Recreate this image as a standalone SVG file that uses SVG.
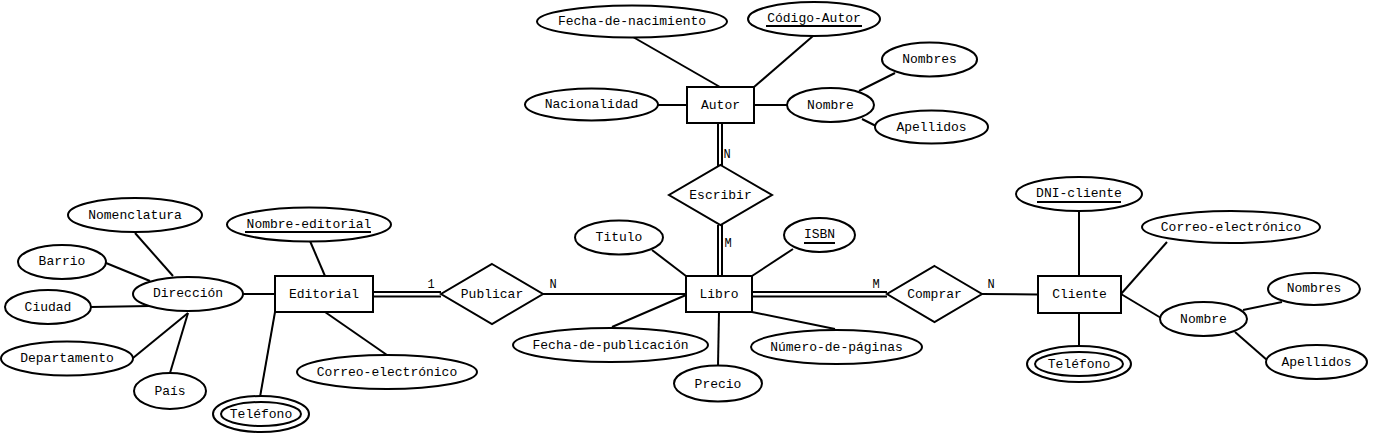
<svg xmlns="http://www.w3.org/2000/svg" width="1376" height="434" viewBox="0 0 1376 434">
<style>
.s{fill:#fff;stroke:#000;stroke-width:2}
.i{fill:none;stroke:#000;stroke-width:2}
.l{stroke:#000;stroke-width:2;fill:none}
.u{stroke:#000;stroke-width:2}
text{font-family:"Liberation Mono","Courier New",monospace;font-size:13px;fill:#000;text-anchor:middle;dominant-baseline:central}
.c{font-size:12px}
</style>
<rect width="1376" height="434" fill="#fff"/>
<g id="connectors">
<line class="l" x1="633" y1="37" x2="720" y2="87"/>
<line class="l" x1="813" y1="36" x2="754" y2="87"/>
<line class="l" x1="658" y1="105" x2="687" y2="105"/>
<line class="l" x1="754" y1="105" x2="787" y2="105"/>
<line class="l" x1="859" y1="91" x2="895" y2="73"/>
<line class="l" x1="862" y1="119" x2="878" y2="127"/>
<line class="l" x1="718" y1="123" x2="718" y2="166"/>
<line class="l" x1="722" y1="123" x2="722" y2="166"/>
<line class="l" x1="718" y1="225" x2="718" y2="276"/>
<line class="l" x1="722" y1="225" x2="722" y2="276"/>
<line class="l" x1="652" y1="250" x2="686" y2="276"/>
<line class="l" x1="793" y1="249" x2="752" y2="276"/>
<line class="l" x1="543" y1="294" x2="686" y2="294"/>
<line class="l" x1="612" y1="327" x2="686" y2="295"/>
<line class="l" x1="719" y1="312" x2="718" y2="366"/>
<line class="l" x1="752" y1="312" x2="835" y2="329"/>
<line class="l" x1="752" y1="292" x2="887" y2="292"/>
<line class="l" x1="752" y1="296.5" x2="887" y2="296.5"/>
<line class="l" x1="982" y1="294" x2="1038" y2="294.5"/>
<line class="l" x1="1079" y1="211" x2="1079" y2="276"/>
<line class="l" x1="1121" y1="294" x2="1167" y2="242"/>
<line class="l" x1="1121" y1="294" x2="1161" y2="318"/>
<line class="l" x1="1243" y1="310" x2="1282" y2="302"/>
<line class="l" x1="1235" y1="332" x2="1267" y2="360"/>
<line class="l" x1="1079" y1="313" x2="1079" y2="346"/>
<line class="l" x1="310" y1="241" x2="325" y2="276"/>
<line class="l" x1="373" y1="292" x2="441" y2="292"/>
<line class="l" x1="373" y1="296.5" x2="441" y2="296.5"/>
<line class="l" x1="325" y1="312" x2="387" y2="355"/>
<line class="l" x1="275" y1="312" x2="260" y2="397"/>
<line class="l" x1="243" y1="294" x2="275" y2="294"/>
<line class="l" x1="135" y1="233" x2="173" y2="276"/>
<line class="l" x1="106" y1="263" x2="150" y2="281"/>
<line class="l" x1="91" y1="307" x2="150" y2="306"/>
<line class="l" x1="133" y1="358" x2="188" y2="313"/>
<line class="l" x1="170" y1="373" x2="188" y2="313"/>
<text class="c" x="727" y="155">N</text>
<text class="c" x="728" y="244">M</text>
<text class="c" x="431" y="285">1</text>
<text class="c" x="553" y="285">N</text>
<text class="c" x="876" y="285">M</text>
<text class="c" x="991" y="285">N</text>
</g>
<g id="autor"><rect class="s" x="687" y="87" width="67" height="36"/><text x="720.5" y="105">Autor</text></g>
<g id="fecha-nacimiento"><ellipse class="s" cx="632" cy="21.5" rx="95" ry="16"/><text x="632" y="21.5">Fecha-de-nacimiento</text></g>
<g id="codigo-autor"><ellipse class="s" cx="814" cy="19" rx="66" ry="17"/><text x="814" y="18">Código-Autor</text><line class="u" x1="766" y1="26" x2="862" y2="26"/></g>
<g id="nacionalidad"><ellipse class="s" cx="591.5" cy="104.5" rx="66.5" ry="16"/><text x="591.5" y="104">Nacionalidad</text></g>
<g id="nombre-autor"><ellipse class="s" cx="830.5" cy="105" rx="43.5" ry="17"/><text x="830.5" y="105">Nombre</text></g>
<g id="nombres-autor"><ellipse class="s" cx="929.5" cy="59.5" rx="47.5" ry="17"/><text x="929.5" y="59">Nombres</text></g>
<g id="apellidos-autor"><ellipse class="s" cx="931.5" cy="127" rx="56.5" ry="16.5"/><text x="931.5" y="127">Apellidos</text></g>
<g id="escribir"><polygon class="s" points="720.5,165 772,195 720.5,225 669,195"/><text x="720.5" y="195">Escribir</text></g>
<g id="libro"><rect class="s" x="686" y="276" width="66" height="36"/><text x="719" y="294">Libro</text></g>
<g id="titulo"><ellipse class="s" cx="619" cy="237.5" rx="44" ry="17"/><text x="619" y="237">Titulo</text></g>
<g id="isbn"><ellipse class="s" cx="819.5" cy="235" rx="35.5" ry="17"/><text x="819.5" y="234">ISBN</text><line class="u" x1="804" y1="243" x2="835" y2="243"/></g>
<g id="publicar"><polygon class="s" points="492,264 543,294 492,324 441,294"/><text x="492" y="294">Publicar</text></g>
<g id="fecha-publicacion"><ellipse class="s" cx="610.5" cy="345" rx="97.5" ry="17"/><text x="610.5" y="345">Fecha-de-publicación</text></g>
<g id="precio"><ellipse class="s" cx="718" cy="383.5" rx="44" ry="18"/><text x="718" y="384">Precio</text></g>
<g id="numero-paginas"><ellipse class="s" cx="836.5" cy="347" rx="85.5" ry="17"/><text x="836.5" y="347">Número-de-páginas</text></g>
<g id="comprar"><polygon class="s" points="934.5,266 982,294 934.5,322 887,294"/><text x="934.5" y="294">Comprar</text></g>
<g id="cliente"><rect class="s" x="1038" y="276" width="83" height="37"/><text x="1079.5" y="294.5">Cliente</text></g>
<g id="dni-cliente"><ellipse class="s" cx="1079" cy="194" rx="63" ry="17"/><text x="1079" y="193">DNI-cliente</text><line class="u" x1="1037" y1="202" x2="1121" y2="202"/></g>
<g id="correo-cliente"><ellipse class="s" cx="1231" cy="227" rx="89" ry="16"/><text x="1231" y="227">Correo-electrónico</text></g>
<g id="nombre-cliente"><ellipse class="s" cx="1203.5" cy="319" rx="43.5" ry="17"/><text x="1203.5" y="319">Nombre</text></g>
<g id="nombres-cliente"><ellipse class="s" cx="1314" cy="289" rx="46" ry="16"/><text x="1314" y="288">Nombres</text></g>
<g id="apellidos-cliente"><ellipse class="s" cx="1316.5" cy="362" rx="50.5" ry="17"/><text x="1316.5" y="362">Apellidos</text></g>
<g id="telefono-cliente"><ellipse class="s" cx="1079" cy="364" rx="52" ry="18"/><ellipse class="i" cx="1079" cy="364" rx="44" ry="12"/><text x="1079" y="364">Teléfono</text></g>
<g id="editorial"><rect class="s" x="275" y="276" width="98" height="36"/><text x="324" y="294">Editorial</text></g>
<g id="nombre-editorial"><ellipse class="s" cx="309" cy="224.5" rx="82" ry="17"/><text x="309" y="224">Nombre-editorial</text><line class="u" x1="245" y1="232" x2="371" y2="232"/></g>
<g id="correo-editorial"><ellipse class="s" cx="387" cy="372" rx="90" ry="17"/><text x="387" y="372">Correo-electrónico</text></g>
<g id="telefono-editorial"><ellipse class="s" cx="261" cy="414" rx="48" ry="18"/><ellipse class="i" cx="261" cy="414" rx="40" ry="12"/><text x="261" y="414">Teléfono</text></g>
<g id="direccion"><ellipse class="s" cx="188" cy="294" rx="55" ry="17"/><text x="188" y="293">Dirección</text></g>
<g id="nomenclatura"><ellipse class="s" cx="135" cy="215" rx="67" ry="17"/><text x="135" y="215">Nomenclatura</text></g>
<g id="barrio"><ellipse class="s" cx="62" cy="262" rx="44" ry="17"/><text x="62" y="261">Barrio</text></g>
<g id="ciudad"><ellipse class="s" cx="48" cy="307" rx="43" ry="17"/><text x="48" y="307">Ciudad</text></g>
<g id="departamento"><ellipse class="s" cx="67" cy="358.5" rx="66" ry="17"/><text x="67" y="358">Departamento</text></g>
<g id="pais"><ellipse class="s" cx="170" cy="391" rx="36" ry="18"/><text x="170" y="391">País</text></g>
</svg>
